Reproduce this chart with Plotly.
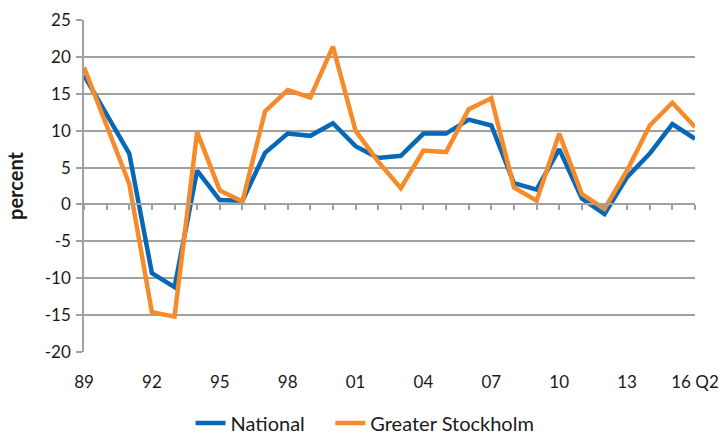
import plotly.graph_objects as go

years = ["89", "90", "91", "92", "93", "94", "95", "96", "97", "98", "99", "00", "01", "02",
         "03", "04", "05", "06", "07", "08", "09", "10", "11", "12", "13", "14", "15", "16 Q2"]
national = [17.5, 12.2, 6.9, -9.3, -11.2, 4.6, 0.6, 0.5, 7.0, 9.6, 9.3, 11.0, 7.9, 6.3,
            6.6, 9.6, 9.6, 11.5, 10.7, 2.9, 2.0, 7.5, 0.8, -1.3, 3.7, 6.9, 10.9, 8.9]
stockholm = [18.6, 10.7, 2.8, -14.6, -15.2, 9.8, 1.9, 0.4, 12.6, 15.5, 14.5, 21.4, 10.0, 5.8,
             2.2, 7.3, 7.1, 12.9, 14.4, 2.3, 0.5, 9.6, 1.4, -0.6, 4.6, 10.7, 13.8, 10.5]
tick_labels = ["89", "92", "95", "98", "01", "04", "07", "10", "13", "16 Q2"]
y_ticks = [25, 20, 15, 10, 5, 0, -5, -10, -15, -20]

idx = list(range(len(years)))
tick_idx = [years.index(t) for t in tick_labels]

fig = go.Figure()
fig.add_trace(go.Scatter(x=idx, y=national, mode="lines", name="National\u00a0\u00a0\u00a0\u00a0",
                         line=dict(color="#0868B8", width=4.5)))
fig.add_trace(go.Scatter(x=idx, y=stockholm, mode="lines", name="Greater Stockholm",
                         line=dict(color="#F78B2A", width=4.5)))
# invisible trace to activate the zero-line tick axis
fig.add_trace(go.Scatter(x=idx, y=national, xaxis="x2", mode="lines", showlegend=False,
                         hoverinfo="skip", line=dict(width=0), opacity=0))

grid = "#A0A0A0"
fig.update_layout(
    width=720, height=435,
    margin=dict(l=84, r=25, t=20, b=83, autoexpand=False),
    paper_bgcolor="white", plot_bgcolor="white",
    font=dict(family="Lato, Open Sans, sans-serif", size=17, color="#1a1a1a"),
    showlegend=True,
    legend=dict(orientation="h", x=0.507, xanchor="center", xref="container",
                y=(435 - 423) / 435, yanchor="middle", yref="container",
                font=dict(size=20), tracegroupgap=0),
    xaxis=dict(range=[0, 27], tickmode="array", tickvals=tick_idx, ticktext=tick_labels,
               showgrid=False, zeroline=False, showline=False, ticks="",
               ticklabelstandoff=18, automargin=False),
    xaxis2=dict(range=[0, 27], overlaying="x", anchor="free", position=20 / 45,
                tickmode="array", tickvals=idx, showticklabels=False, ticks="outside",
                ticklen=5, tickwidth=1.5, tickcolor=grid, showline=True, linecolor=grid,
                linewidth=1.5, showgrid=False, zeroline=False, automargin=False),
    yaxis=dict(range=[-20, 25], tickmode="array", tickvals=y_ticks,
               ticktext=[str(v) for v in y_ticks],
               showgrid=True, gridcolor=grid, gridwidth=1.5,
               zeroline=False, showline=True, linecolor=grid, linewidth=1.5,
               ticks="outside", ticklen=6, tickcolor=grid, tickwidth=1.5,
               ticklabelstandoff=2, automargin=False,
               title=dict(text="<b>percent</b>", standoff=16, font=dict(size=20))),
)
fig.write_html("out.html", config={"displayModeBar": False},
               post_script="document.body.style.margin='0';document.body.style.overflow='hidden';")
